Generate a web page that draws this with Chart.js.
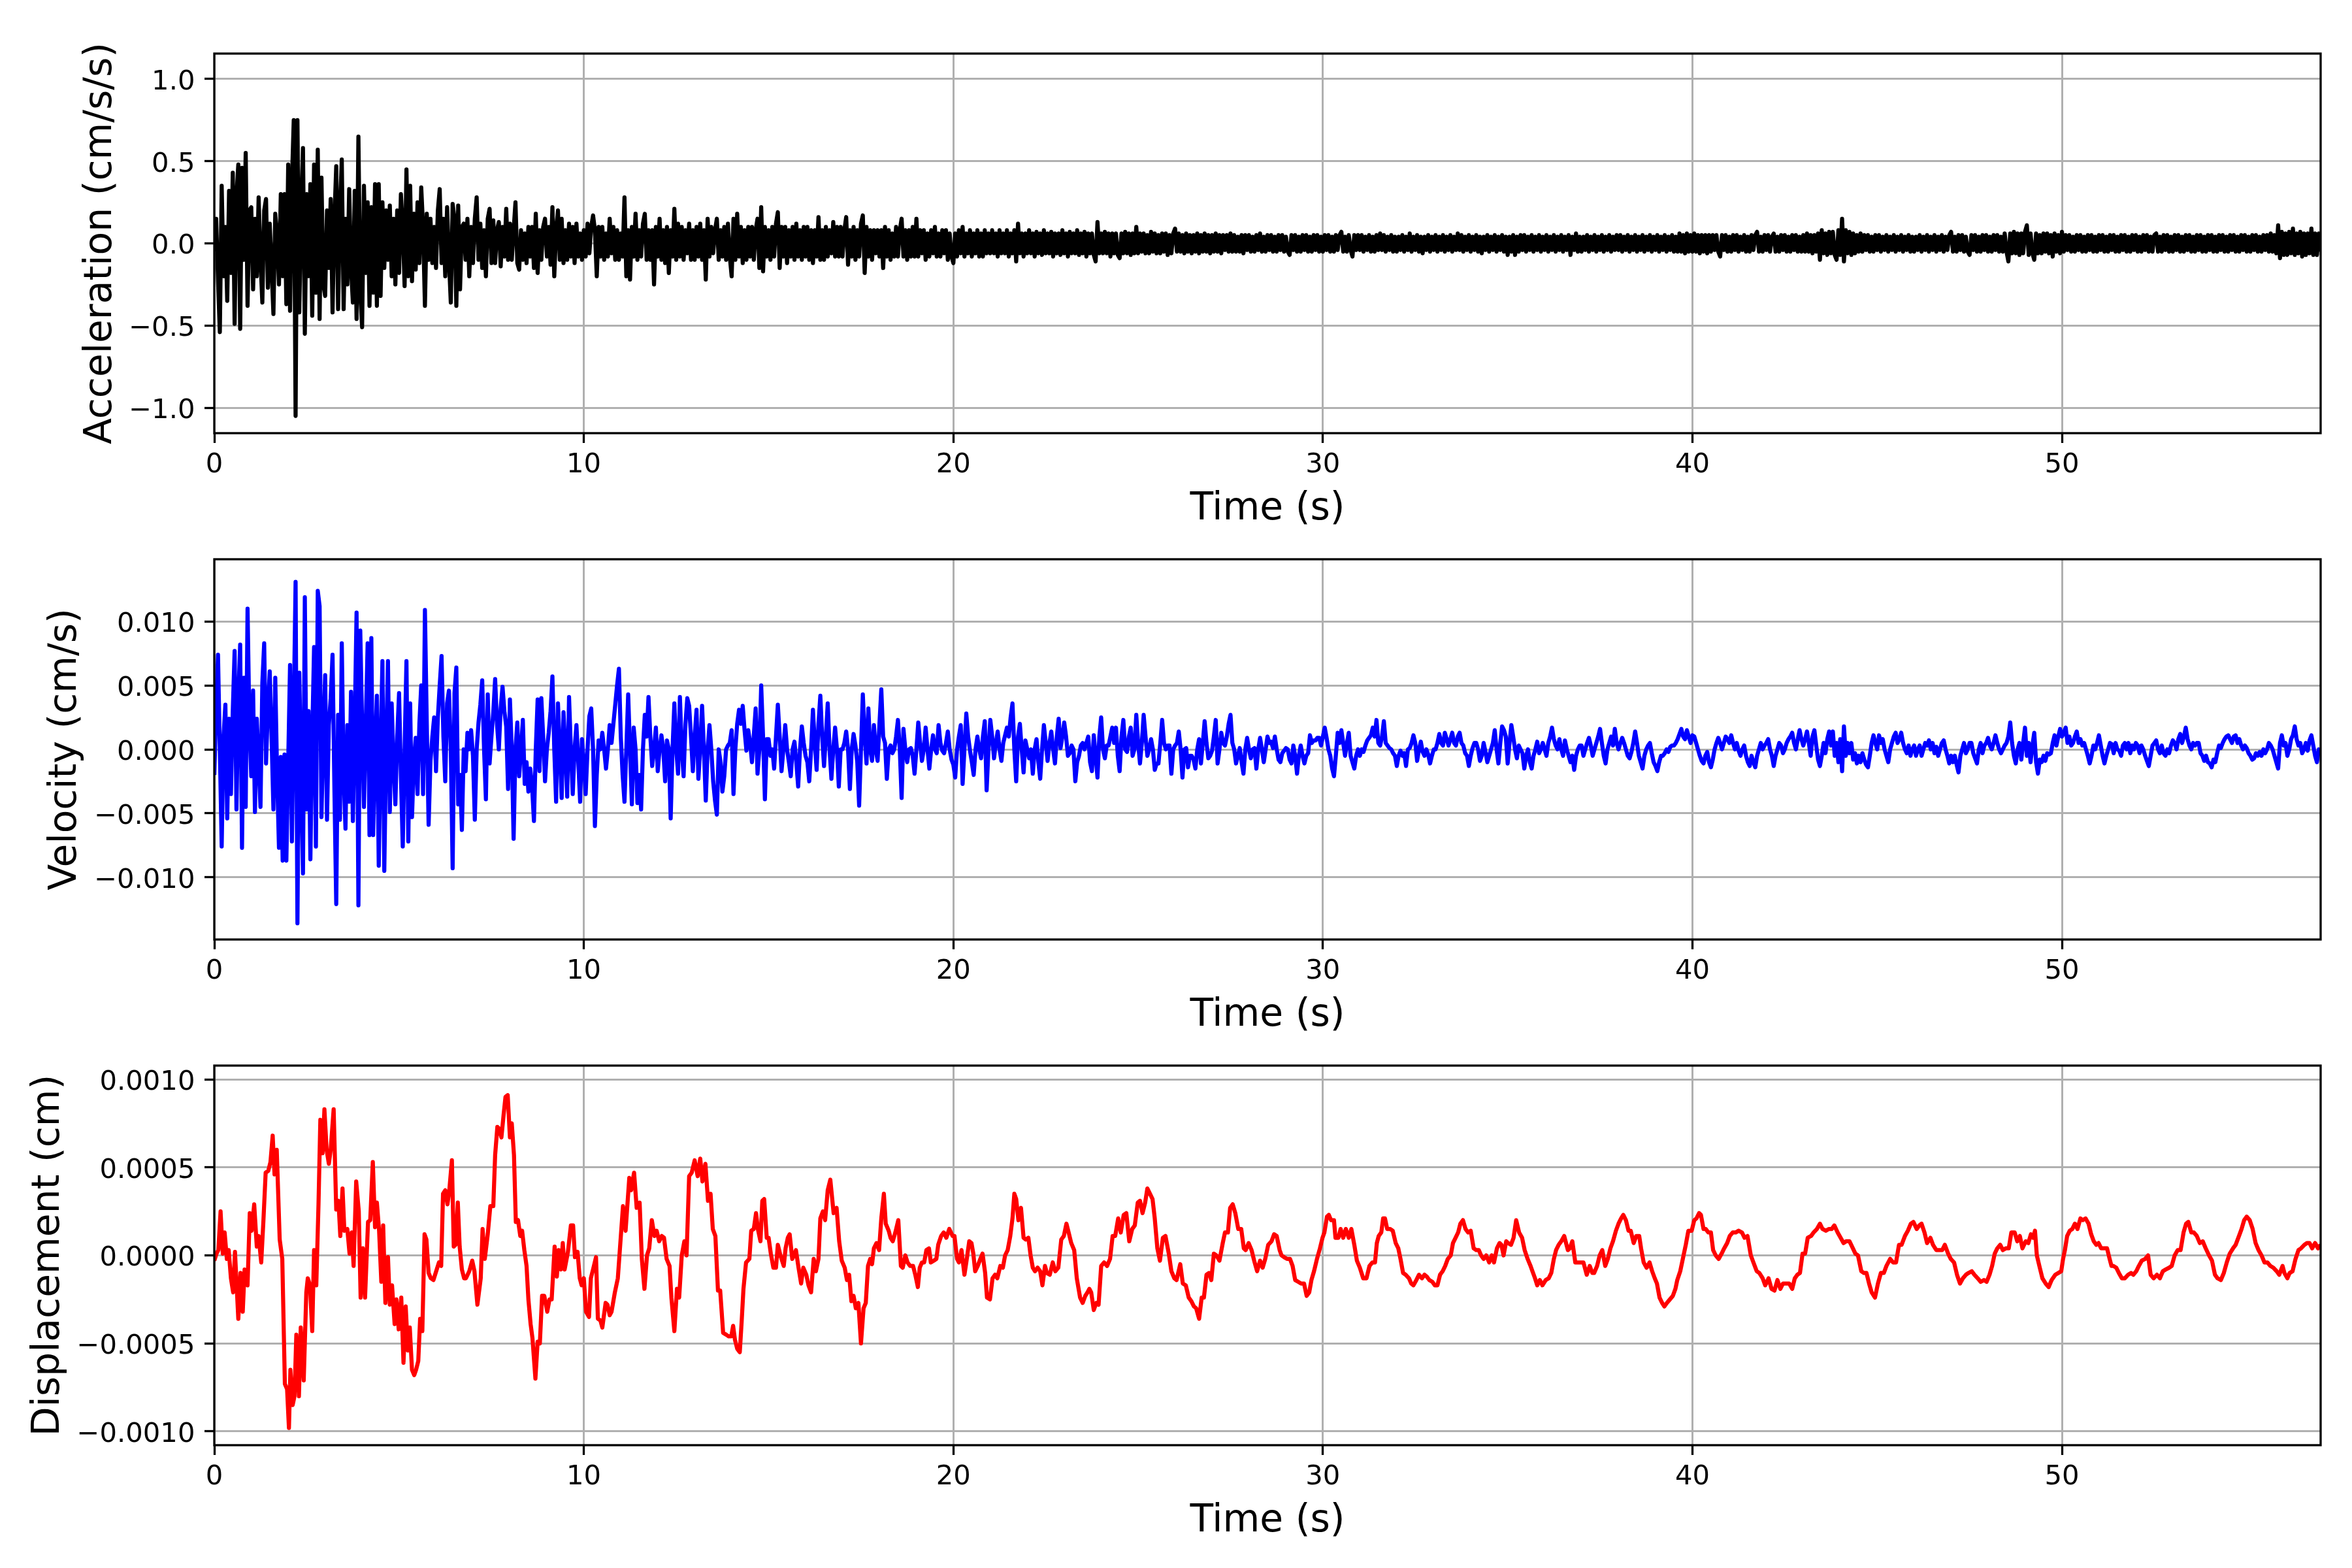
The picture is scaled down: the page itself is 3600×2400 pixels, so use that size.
<!DOCTYPE html>
<html><head><meta charset="utf-8">
<script src="https://cdn.jsdelivr.net/npm/chart.js@4.4.1/dist/chart.umd.min.js"></script>
<style>
html,body{margin:0;padding:0;background:#fff;}
body{width:3600px;height:2400px;position:relative;overflow:hidden;}
canvas{position:absolute;left:0;}
</style></head><body>
<canvas id="c1" width="3600" height="830" style="top:0px;width:3600px;height:830px"></canvas>
<canvas id="c2" width="3600" height="830" style="top:775px;width:3600px;height:830px"></canvas>
<canvas id="c3" width="3600" height="830" style="top:1550px;width:3600px;height:830px"></canvas>
<script>
// ---- axis ticks ----
const timeStep = 0.05;           // s between acceleration / velocity readings
const timeMax = 57.0;
const xTicks = [0, 10, 20, 30, 40, 50];
const xTickLabels = ['0', '10', '20', '30', '40', '50'];
const accTicks = [-1.0, -0.5, 0, 0.5, 1.0];
const accTickLabels = ['\u22121.0', '\u22120.5', '0.0', '0.5', '1.0'];
const velTicks = [-0.010, -0.005, 0, 0.005, 0.010];
const velTickLabels = ['\u22120.010', '\u22120.005', '0.000', '0.005', '0.010'];
const dispTicks = [-0.0010, -0.0005, 0, 0.0005, 0.0010];
const dispTickLabels = ['\u22120.0010', '\u22120.0005', '0.0000', '0.0005', '0.0010'];
const accLimit = 1.155, velLimit = 0.01487, dispLimit = 0.001078;

// ---- acceleration, units of 0.01 cm/s/s, one reading per 0.05 s ----
const acceleration = [
-5,15,-22,-54,35,-20,10,-35,32,-18,43,-49,29,48,-52,46,-10,55,-38,20,
22,-28,15,-20,28,-10,-36,20,27,-27,12,-15,-43,18,5,-25,30,-20,30,-37,
48,-41,37,75,-105,75,-42,20,58,-55,30,-20,36,-44,48,-30,57,-46,40,-25,
-32,20,-15,27,-42,15,47,-40,20,51,-40,15,-25,33,-15,-36,32,-46,65,-30,
-51,35,-18,25,-38,22,-30,36,-38,36,-32,25,-15,20,-10,23,-20,15,-25,20,
-18,30,10,-26,45,-20,35,-23,18,-16,25,-12,34,10,-38,18,-10,15,-12,10,
-15,20,33,-12,15,-20,22,-10,-36,24,15,-38,23,-28,10,12,-10,15,-20,10,
-12,15,28,-10,12,-15,8,-20,15,21,-12,14,-12,8,13,-14,10,-8,21,-10,
12,-10,8,25,-12,-16,8,-10,6,-12,10,-8,10,-15,18,-18,8,-10,10,15,
-8,10,-13,22,-20,8,20,-10,15,-12,8,-10,12,-8,10,-12,12,-8,6,-10,
8,-8,12,-6,10,17,8,-20,10,-8,10,-10,6,-8,15,-6,10,-10,8,-10,
6,-8,28,-20,8,-22,10,-8,18,-10,8,-8,12,18,-10,8,-10,8,-25,10,
-8,15,-10,8,-12,10,-18,8,-8,21,-10,12,-8,10,-10,8,-6,12,-10,8,
-10,10,-8,12,-10,8,-22,15,-8,10,-6,8,15,-10,8,-8,10,-10,12,-8,
-20,15,-10,18,-8,10,-12,8,-10,10,-8,10,-10,8,15,-15,22,-17,10,-8,
8,-10,10,-8,12,19,-15,10,-8,10,-12,8,-8,10,-10,12,-8,8,-10,10,
-8,10,-10,8,-12,8,-8,16,-10,8,-10,10,-8,8,-6,13,-8,10,-8,10,
-8,8,16,-13,8,-8,10,-10,8,-8,12,17,-18,10,-8,8,-10,8,-6,8,
-8,8,-15,10,-8,8,-10,6,-8,10,-8,8,15,-8,8,-10,8,-8,10,-8,
15,-8,8,-6,8,-10,6,-8,8,-6,10,-8,6,-8,8,-6,8,-10,6,-8,
-12,6,-8,8,-6,10,-8,6,-6,8,-8,6,-6,8,-8,6,-8,8,-6,6,
-6,8,-6,6,-8,8,-6,6,-6,8,-8,6,-6,8,-11,12,-6,6,-8,6,
-6,8,-6,6,-8,7,-6,6,-7,8,-6,6,-6,7,-8,6,-6,6,-7,8,
-6,6,-8,7,-6,6,-6,8,-7,6,-6,7,-8,6,-6,6,-7,-11,13,-6,
6,-6,7,-6,6,-8,6,-6,6,-7,-9,6,-6,7,-6,6,-7,6,-6,10,
-6,6,-5,6,-6,5,-6,7,-5,6,-6,5,-6,6,-5,6,-7,5,-6,6,
9,-5,6,-5,5,-6,6,-5,5,-6,5,-5,6,-6,5,-5,6,-5,5,-6,
5,-5,6,-5,5,-6,5,-4,5,-5,6,-5,5,-5,4,-5,5,-6,5,-4,
5,-5,4,-5,5,-4,6,-5,4,-5,5,-4,5,-5,4,-5,5,-4,5,-5,
4,-5,-7,5,-4,5,-5,4,-5,5,-4,5,-5,4,-5,5,-4,5,-5,4,
-5,5,-4,5,-5,4,-5,5,-4,5,7,-5,4,-5,5,-4,-8,5,-4,5,
-4,5,-5,4,-4,5,-5,4,-5,5,-4,6,-4,5,-5,4,-4,5,-5,4,
-5,4,-4,5,-5,4,-4,6,-5,4,-4,5,-5,4,-6,4,-4,5,-5,4,
-4,5,-5,4,-4,5,-5,4,-4,5,-5,4,-4,6,-4,5,-5,4,-4,5,
-5,4,-4,5,-5,4,-6,4,-4,5,-5,4,-4,5,-5,4,-4,5,-5,4,
-7,4,-5,5,-7,4,-5,5,-4,5,-5,4,-4,5,-5,4,-4,5,-5,4,
-4,5,-5,4,-4,5,-5,4,-4,5,-5,4,-4,5,-7,4,-4,6,-5,4,
-5,4,-4,5,-5,4,-4,5,-5,4,-4,5,-5,4,-4,5,-5,4,-4,5,
-4,5,-5,4,-4,5,-5,4,-4,5,-5,4,-4,5,-5,4,-4,5,-5,4,
-4,5,-5,4,-4,5,-5,4,-4,5,-5,4,-5,6,-5,5,-6,6,-5,5,
-5,6,-5,5,-6,5,-5,5,-6,5,-5,5,-4,5,-5,-8,5,-4,5,-5,
4,-5,5,-4,5,-5,4,-4,5,-5,4,-5,5,-4,5,7,-5,4,-5,5,
-4,5,-5,4,6,-5,4,-5,5,-4,5,-5,4,-5,5,-4,5,-5,4,-5,
5,-5,6,-5,5,-6,5,-5,6,-10,8,-6,6,-7,7,-6,7,-7,-10,8,
-7,15,-11,8,-6,7,-7,6,-6,5,-5,6,-5,5,-4,5,-5,4,-5,5,
-4,5,-5,4,-4,5,-5,4,-4,5,-5,4,-4,5,-5,4,-4,5,-5,4,
-5,4,-4,5,-5,4,-4,5,-5,4,-4,5,-5,4,-4,5,-5,4,-4,5,
7,-5,4,-5,5,-4,5,-5,4,-5,-7,5,-4,5,-5,4,-5,5,-4,5,
-5,4,-5,5,-4,5,-5,4,-5,6,-5,-11,6,-6,7,-6,6,-7,6,-6,
7,11,-7,6,-6,-10,6,-6,5,-6,6,-5,6,-6,5,-8,6,-5,5,-6,
7,-5,5,-4,5,-5,4,-5,5,-4,5,-5,4,-5,5,-4,5,-5,4,-5,
5,-4,5,-5,4,-5,5,-4,5,-5,4,-5,5,-4,5,-5,4,-5,5,-4,
5,-5,4,-5,5,-4,5,-5,4,-5,5,6,-5,4,-5,5,-4,5,-5,4,
-5,5,-4,5,-5,4,-5,5,-4,5,-5,4,-5,5,-4,5,-5,4,-5,5,
-4,5,-5,4,-5,5,-4,5,-5,4,-5,5,-4,5,-5,4,-5,5,-4,5,
-5,4,-5,5,-4,5,-5,4,-5,5,-4,5,-5,6,-5,5,-6,11,-9,7,
-7,6,-7,7,-6,9,-7,6,-6,7,-8,6,-7,6,-6,9,-7,6,-7,6,
-5
];

// ---- velocity, units of 1e-4 cm/s, one reading per 0.05 s ----
const velocity = [
-20,30,74,0,-76,10,35,-54,24,-35,30,77,-47,40,82,-77,56,-45,110,20,
-21,46,-49,24,-10,-45,52,83,-11,32,61,10,-47,56,-20,-77,-6,-87,-4,-87,
-10,66,-72,30,131,-136,60,-20,-97,119,-47,30,-86,10,80,-76,124,112,-53,10,
58,-55,19,40,74,-30,-121,27,-55,83,-20,-62,19,-41,45,-56,20,107,-122,93,
20,-45,20,83,-67,87,-67,0,42,-91,0,69,-95,0,69,-49,36,-10,-43,10,
44,-20,-76,0,69,-72,36,-53,-10,9,-35,20,50,-35,109,20,-59,-9,10,25,
-17,25,50,73,10,-25,36,46,0,-93,44,64,-43,-20,-63,0,-17,13,0,15,
-5,-55,0,21,35,54,0,-39,43,-11,10,29,55,20,0,32,49,30,18,-31,
39,0,-70,0,21,-21,0,23,-27,-10,-33,-15,-29,-56,0,39,-17,40,10,-25,
0,13,30,57,0,-41,36,0,-38,29,0,-37,41,0,-35,0,19,-10,-41,8,
-10,-35,0,26,32,0,-60,-20,7,0,13,0,-15,0,19,5,20,35,50,63,
10,-20,-41,0,43,0,-43,17,0,-42,-20,-47,0,27,10,41,10,-13,0,17,
-17,0,11,0,-25,7,0,-54,0,36,0,-19,41,0,-21,20,40,34,10,-17,
10,31,-23,0,34,0,-40,0,19,0,-25,-40,-51,0,-10,-33,-21,0,3,5,
15,-35,0,20,31,20,34,15,-1,15,5,-10,11,32,-19,0,50,10,-39,8,
8,-5,0,-15,10,35,10,-17,0,19,0,-10,-21,0,6,-10,-29,0,18,5,
-5,-10,-25,0,31,5,-16,20,42,10,-13,10,36,0,-23,0,17,0,-29,0,
0,5,14,0,-31,0,12,3,-10,-44,0,43,10,-11,32,0,-9,19,0,-9,
20,47,10,5,-23,0,3,-3,0,10,23,0,-38,16,0,-10,0,1,-5,-19,
0,21,5,-9,0,17,0,-15,0,11,0,-3,19,5,-1,-3,5,14,0,-8,
-12,-22,0,10,19,-27,0,28,10,-1,-10,-20,0,10,0,-7,10,22,-32,0,
23,10,-7,5,14,0,-9,5,11,17,10,25,36,0,-25,10,20,0,-18,7,
0,-7,0,-19,0,8,-10,-23,0,19,5,-9,5,14,0,-11,10,24,1,10,
21,10,-5,-3,3,0,-25,-10,-5,3,5,0,5,10,-10,-17,11,-5,-22,10,
25,0,-7,3,3,10,17,5,17,-5,-17,10,23,0,-2,10,17,-5,0,27,
5,-11,5,27,10,-5,0,8,0,-16,-11,-11,5,23,5,0,3,3,-19,0,
3,5,14,0,-22,0,1,-14,-5,-5,-8,-15,0,8,-11,5,22,5,-7,-5,
-1,10,23,-11,0,13,5,3,10,20,27,5,0,-11,-5,1,-10,-19,0,9,
0,-7,0,1,-15,0,9,0,-10,0,10,5,6,1,10,0,-8,-10,-3,-1,
1,0,-8,-11,3,-5,-19,-5,3,-5,-11,-5,-3,11,5,7,7,9,9,3,
10,17,9,0,-5,-15,-21,-5,13,5,15,5,-5,5,13,-5,-10,-15,-5,0,
-5,0,-2,3,7,9,11,17,10,23,5,3,10,22,5,3,1,0,-3,-5,
-13,-5,-1,-5,-3,-13,0,1,5,11,5,-9,0,6,-2,-5,0,-4,-11,-5,
0,0,5,12,5,3,13,8,3,8,13,5,3,10,13,5,3,-3,-5,-13,
-5,1,5,5,0,-9,-5,5,-2,-10,-5,0,5,15,0,-11,5,18,15,10,
-11,5,19,10,0,-7,3,0,-3,-15,-5,0,-10,-15,-5,0,6,-3,0,5,
0,-5,5,10,17,8,3,0,8,0,-5,7,0,-5,-10,-5,-16,-5,0,3,
3,-5,0,5,9,3,-5,0,5,10,16,5,-5,-11,0,5,10,3,16,5,
0,5,9,5,0,-5,-7,-2,5,14,5,-5,-10,-15,-5,0,3,5,-3,-10,
-13,-17,-10,-5,-5,-3,0,-2,2,3,3,5,8,12,16,10,8,15,10,5,
11,10,5,0,-5,-9,-11,-5,-2,-10,-14,-8,0,5,9,5,0,5,10,8,
5,11,5,0,5,-1,-5,0,3,-5,-10,-13,-5,-10,-14,-5,0,5,0,3,
5,8,0,-5,-13,-5,0,5,3,-3,0,5,8,10,13,5,0,8,15,8,
3,8,14,5,-5,10,15,3,-8,-13,-5,5,-3,8,14,3,14,-5,5,-10,
8,-17,18,-5,5,-3,5,-8,-3,-11,-5,-10,-3,-8,-12,-14,-5,5,11,5,
0,11,5,8,0,-5,-10,0,5,10,13,5,8,13,5,0,-3,3,-5,0,
3,-5,0,3,-5,0,5,3,7,0,5,-3,2,-5,0,5,7,0,-5,-11,
-5,-10,-5,-12,-18,-5,0,5,-3,0,5,5,-3,-7,-11,0,5,-3,3,5,
9,3,0,5,11,5,0,-3,0,3,5,10,21,5,-5,-11,0,5,-8,5,
17,-5,5,-10,3,13,-10,-19,-8,-10,-5,-9,-3,-4,-3,5,11,3,10,16,
10,13,17,5,10,3,5,10,14,5,8,3,5,0,-5,-11,-5,3,0,5,
11,3,-5,-11,-5,0,5,4,-3,5,0,-1,-5,3,5,0,5,-3,3,0,
5,3,-3,3,0,-5,-9,-13,-5,3,5,7,0,-3,3,-3,-5,0,-3,3,
7,5,0,8,12,5,10,17,8,3,0,5,3,5,5,-3,-5,-9,-5,-10,
-11,-14,-8,-10,-3,3,1,5,8,10,11,8,5,10,11,5,8,3,0,3,
1,-3,-5,-8,-7,-3,-5,-2,-5,0,-3,0,5,3,0,-5,-10,-15,5,11,
3,5,-5,0,8,11,18,8,3,5,-3,0,5,-1,7,11,3,-5,-10,0,
-3
];

// ---- displacement readings: [time s, value in 1e-5 cm] ----
const displacementReadings = [
[0,-3],[0.06,1],[0.11,3],[0.17,25],[0.23,1],[0.28,13],[0.34,-2],[0.39,3],[0.45,-13],[0.51,-21],[0.56,2],[0.65,-36],[0.71,-10],[0.77,-32],[0.82,-8],[0.9,-17],[0.96,24],
[1.01,14],[1.08,29],[1.15,5],[1.2,11],[1.27,-4],[1.33,20],[1.39,47],[1.46,48],[1.52,53],[1.58,68],[1.63,46],[1.69,60],[1.77,9],[1.84,-2],[1.91,-73],[1.97,-76],
[2.02,-98],[2.06,-65],[2.12,-85],[2.17,-80],[2.22,-45],[2.29,-80],[2.34,-41],[2.42,-71],[2.49,-21],[2.53,-13],[2.59,-17],[2.65,-43],[2.7,3],[2.76,-17],[2.82,29],[2.87,77],[2.93,58],[2.98,83],
[3.04,60],[3.1,52],[3.15,60],[3.23,83],[3.3,26],[3.36,31],[3.41,11],[3.47,38],[3.52,14],[3.6,15],[3.66,1],[3.72,13],[3.77,-6],[3.84,42],[3.91,25],[3.96,-24],
[4.02,4],[4.08,-24],[4.16,19],[4.22,20],[4.29,53],[4.35,16],[4.4,30],[4.46,14],[4.52,-15],[4.57,17],[4.63,-27],[4.7,-1],[4.75,-28],[4.81,-17],[4.88,-39],[4.93,-25],[4.99,-42],
[5.06,-24],[5.12,-61],[5.18,-29],[5.24,-54],[5.29,-41],[5.35,-65],[5.41,-68],[5.46,-65],[5.52,-60],[5.57,-36],[5.63,-43],[5.69,12],[5.74,9],[5.8,-10],[5.86,-13],[5.93,-14],
[6.02,-8],[6.08,-4],[6.14,-6],[6.19,35],[6.25,37],[6.31,29],[6.36,37],[6.43,54],[6.48,5],[6.53,6],[6.59,30],[6.64,5],[6.7,-8],[6.76,-13],[6.81,-13],[6.9,-9],[6.98,-3],
[7.04,-9],[7.12,-28],[7.21,-13],[7.26,15],[7.32,-2],[7.4,12],[7.47,28],[7.55,28],[7.6,57],[7.66,73],[7.71,72],[7.77,67],[7.83,80],[7.88,90],[7.94,91],
[8.0,67],[8.05,75],[8.11,57],[8.16,19],[8.22,20],[8.28,11],[8.33,14],[8.39,3],[8.45,-6],[8.5,-25],[8.56,-39],[8.61,-47],[8.69,-70],[8.75,-49],[8.81,-50],[8.87,-23],[8.93,-23],
[9.01,-32],[9.07,-25],[9.13,-25],[9.21,5],[9.27,-12],[9.32,3],[9.38,-8],[9.43,7],[9.48,-8],[9.57,2],[9.65,17],[9.71,17],[9.76,-1],[9.83,2],[9.89,-13],[9.94,-17],
[10.0,-13],[10.06,-32],[10.14,-35],[10.19,-13],[10.25,-8],[10.33,-1],[10.38,-36],[10.45,-37],[10.5,-41],[10.59,-27],[10.64,-28],[10.7,-34],[10.75,-32],[10.84,-21],[10.92,-13],
[11.06,28],[11.13,14],[11.23,44],[11.28,37],[11.36,47],[11.43,27],[11.51,30],[11.57,-2],[11.64,-19],[11.71,0],[11.77,4],[11.84,20],[11.91,11],[11.97,14],
[12.04,8],[12.11,11],[12.17,10],[12.24,-2],[12.32,-6],[12.37,-24],[12.45,-43],[12.52,-19],[12.58,-24],[12.65,0],[12.72,8],[12.78,0],[12.85,45],[12.92,47],
[13.0,54],[13.08,45],[13.15,55],[13.21,42],[13.29,52],[13.36,31],[13.43,35],[13.49,15],[13.56,11],[13.63,-20],[13.69,-20],[13.77,-44],[13.85,-45],[13.92,-46],[13.99,-46],
[14.04,-40],[14.09,-48],[14.15,-53],[14.22,-55],[14.27,-38],[14.32,-19],[14.39,-4],[14.48,-2],[14.53,14],[14.6,15],[14.66,24],[14.71,15],[14.78,8],[14.83,31],[14.88,32],[14.95,10],
[15.0,10],[15.06,1],[15.13,-7],[15.2,-7],[15.25,6],[15.32,0],[15.41,-6],[15.46,4],[15.52,10],[15.57,12],[15.64,-2],[15.69,0],[15.74,3],[15.81,-7],[15.88,-16],[15.94,-7],
[16.02,-11],[16.08,-17],[16.15,-21],[16.22,-2],[16.28,-9],[16.35,-2],[16.4,21],[16.47,25],[16.53,20],[16.6,37],[16.67,43],[16.76,24],[16.84,27],[16.91,8],[16.98,-3],
[17.06,-7],[17.12,-14],[17.18,-11],[17.24,-26],[17.3,-23],[17.36,-30],[17.43,-27],[17.5,-50],[17.57,-30],[17.63,-27],[17.69,-6],[17.75,-2],[17.8,-5],[17.85,4],[17.92,7],[17.99,3],
[18.05,21],[18.12,35],[18.17,18],[18.25,14],[18.3,10],[18.36,8],[18.43,13],[18.51,20],[18.58,-6],[18.63,-7],[18.7,0],[18.76,-4],[18.83,-6],[18.91,-6],[18.97,-11],
[19.04,-18],[19.09,-7],[19.15,-4],[19.21,-4],[19.27,3],[19.34,4],[19.39,-4],[19.47,-3],[19.54,-2],[19.59,6],[19.67,11],[19.74,13],[19.81,10],[19.89,15],[19.98,11],
[20.03,11],[20.1,-2],[20.15,-4],[20.22,3],[20.3,-11],[20.35,-4],[20.43,8],[20.49,7],[20.54,1],[20.59,-9],[20.66,-6],[20.73,-2],[20.79,1],[20.86,-10],[20.91,-24],[20.99,-25],
[21.06,-13],[21.13,-11],[21.19,-13],[21.27,-6],[21.34,-7],[21.4,0],[21.47,3],[21.54,11],[21.6,21],[21.65,35],[21.7,32],[21.76,20],[21.83,27],[21.9,10],[21.96,9],
[22.03,10],[22.09,0],[22.15,-7],[22.21,-9],[22.28,-7],[22.35,-9],[22.41,-17],[22.48,-6],[22.53,-10],[22.61,-11],[22.69,-4],[22.76,-9],[22.84,-7],[22.92,9],[22.99,11],
[23.06,18],[23.12,13],[23.19,7],[23.27,3],[23.34,-13],[23.43,-24],[23.5,-27],[23.57,-23],[23.63,-21],[23.68,-19],[23.73,-21],[23.8,-31],[23.87,-27],[23.93,-28],
[24.0,-6],[24.08,-4],[24.16,-6],[24.24,-2],[24.31,11],[24.38,11],[24.46,21],[24.53,13],[24.61,23],[24.68,24],[24.76,8],[24.84,15],[24.91,17],[24.99,30],
[25.05,31],[25.12,24],[25.19,30],[25.25,38],[25.32,35],[25.39,32],[25.45,21],[25.52,4],[25.59,-3],[25.67,10],[25.74,11],[25.83,1],[25.9,-9],[25.98,-13],
[26.04,-14],[26.14,-5],[26.21,-16],[26.29,-17],[26.37,-24],[26.44,-26],[26.51,-29],[26.57,-30],[26.65,-36],[26.72,-24],[26.78,-24],[26.85,-11],[26.92,-10],[26.98,-14],
[27.05,1],[27.12,0],[27.2,-3],[27.29,7],[27.35,13],[27.43,13],[27.49,27],[27.56,29],[27.63,24],[27.71,15],[27.79,15],[27.86,4],[27.91,3],[27.99,7],
[28.07,3],[28.14,-3],[28.22,-9],[28.3,-3],[28.37,-7],[28.44,-2],[28.52,6],[28.61,8],[28.68,12],[28.75,11],[28.83,3],[28.88,0],[28.95,-1],
[29.03,-2],[29.11,-2],[29.18,-6],[29.25,-14],[29.33,-15],[29.41,-16],[29.49,-16],[29.56,-23],[29.63,-21],[29.69,-14],[29.76,-9],[29.84,-2],[29.92,4],[29.99,10],
[30.04,13],[30.11,22],[30.16,23],[30.22,20],[30.3,20],[30.34,10],[30.42,10],[30.48,15],[30.55,10],[30.62,15],[30.7,10],[30.77,15],[30.85,6],[30.92,-3],
[31.0,-7],[31.09,-13],[31.18,-13],[31.26,-6],[31.34,-4],[31.41,-4],[31.46,7],[31.51,11],[31.58,13],[31.63,21],[31.68,21],[31.74,15],[31.82,15],[31.89,14],[31.97,7],
[32.04,4],[32.1,-2],[32.17,-10],[32.24,-11],[32.33,-13],[32.39,-16],[32.45,-17],[32.53,-14],[32.6,-11],[32.68,-13],[32.75,-11],[32.81,-12],[32.88,-14],[32.96,-15],
[33.03,-17],[33.1,-17],[33.17,-11],[33.24,-9],[33.31,-6],[33.38,-2],[33.46,0],[33.52,7],[33.59,10],[33.66,13],[33.72,18],[33.79,20],[33.86,15],[33.93,13],
[34.0,14],[34.08,4],[34.15,3],[34.22,3],[34.28,0],[34.35,-2],[34.42,0],[34.5,-4],[34.57,0],[34.63,-4],[34.71,4],[34.78,7],[34.83,6],[34.89,0],[34.96,8],
[35.01,7],[35.09,6],[35.16,10],[35.23,20],[35.31,13],[35.39,10],[35.46,3],[35.54,-2],[35.62,-6],[35.67,-9],[35.74,-13],[35.8,-17],[35.87,-14],[35.94,-17],
[36.03,-14],[36.11,-13],[36.18,-10],[36.25,-2],[36.31,3],[36.38,6],[36.45,8],[36.53,11],[36.58,7],[36.63,3],[36.68,4],[36.75,8],[36.83,-4],[36.9,-4],[36.98,-4],
[37.05,-4],[37.14,-11],[37.22,-6],[37.29,-10],[37.34,-10],[37.42,-6],[37.49,0],[37.56,3],[37.64,-6],[37.71,-2],[37.78,4],[37.85,8],[37.93,14],
[38.0,18],[38.07,21],[38.13,23],[38.2,20],[38.27,14],[38.33,14],[38.41,7],[38.48,11],[38.56,11],[38.61,4],[38.68,-4],[38.76,-7],[38.84,-4],[38.91,-9],[38.98,-13],
[39.04,-16],[39.11,-24],[39.18,-27],[39.24,-29],[39.31,-27],[39.39,-25],[39.47,-23],[39.54,-19],[39.59,-14],[39.67,-9],[39.74,-2],[39.82,6],[39.89,14],[39.98,14],
[40.05,20],[40.11,21],[40.18,24],[40.23,23],[40.3,15],[40.36,15],[40.43,13],[40.5,13],[40.56,3],[40.63,0],[40.71,-2],[40.79,1],[40.86,4],[40.94,7],
[41.01,11],[41.09,13],[41.17,13],[41.25,14],[41.34,13],[41.41,10],[41.49,11],[41.58,0],[41.65,-4],[41.74,-9],[41.81,-10],[41.9,-13],[41.97,-17],
[42.06,-13],[42.14,-19],[42.22,-20],[42.3,-14],[42.38,-19],[42.45,-16],[42.54,-16],[42.62,-16],[42.7,-19],[42.77,-13],[42.84,-11],[42.91,-10],[42.98,1],
[43.05,1],[43.12,10],[43.21,11],[43.28,13],[43.37,15],[43.45,18],[43.52,15],[43.61,14],[43.69,15],[43.77,15],[43.84,17],[43.93,13],
[44.01,10],[44.09,7],[44.16,8],[44.25,8],[44.32,5],[44.41,1],[44.48,0],[44.57,-9],[44.64,-10],[44.71,-10],[44.78,-16],[44.85,-21],[44.94,-24],
[45.02,-16],[45.1,-10],[45.18,-10],[45.25,-6],[45.35,-2],[45.43,-4],[45.51,-4],[45.59,6],[45.66,6],[45.75,11],[45.83,14],[45.91,18],[45.98,19],
[46.07,15],[46.14,17],[46.2,18],[46.28,13],[46.35,7],[46.44,10],[46.51,6],[46.6,3],[46.67,3],[46.76,3],[46.83,6],[46.92,1],[46.99,-2],
[47.08,-4],[47.16,-11],[47.24,-16],[47.32,-13],[47.4,-11],[47.47,-10],[47.56,-9],[47.63,-11],[47.72,-13],[47.8,-15],[47.89,-14],[47.96,-15],
[48.04,-11],[48.11,-6],[48.18,1],[48.25,4],[48.33,6],[48.4,3],[48.48,4],[48.56,4],[48.63,13],[48.72,13],[48.79,8],[48.86,11],[48.93,4],
[49.02,8],[49.09,7],[49.16,12],[49.22,10],[49.27,14],[49.32,0],[49.4,-7],[49.47,-13],[49.56,-16],[49.64,-18],[49.72,-14],[49.82,-11],[49.9,-10],[49.98,-9],
[50.03,-2],[50.08,3],[50.14,11],[50.21,14],[50.28,15],[50.35,18],[50.42,15],[50.5,21],[50.56,20],[50.64,21],[50.72,18],[50.79,12],[50.86,8],[50.93,6],[50.99,7],
[51.06,4],[51.15,4],[51.22,4],[51.29,-2],[51.34,-6],[51.39,-6],[51.47,-7],[51.54,-10],[51.62,-13],[51.7,-13],[51.79,-11],[51.87,-10],[51.93,-11],
[52.01,-9],[52.08,-6],[52.16,-3],[52.25,-2],[52.33,0],[52.4,-11],[52.48,-13],[52.57,-11],[52.65,-13],[52.73,-9],[52.81,-8],[52.9,-7],[52.97,-6],
[53.05,0],[53.13,3],[53.21,3],[53.29,13],[53.36,18],[53.42,19],[53.5,13],[53.57,13],[53.65,11],[53.73,7],[53.81,8],[53.89,4],[53.98,0],
[54.06,-3],[54.14,-11],[54.21,-13],[54.3,-14],[54.38,-10],[54.46,-4],[54.54,1],[54.63,4],[54.7,6],[54.79,11],[54.86,15],[54.93,20],
[55.0,22],[55.08,20],[55.16,15],[55.24,7],[55.32,3],[55.4,0],[55.48,-4],[55.56,-4],[55.64,-6],[55.72,-7],[55.81,-9],[55.88,-11],[55.97,-6],
[56.02,-10],[56.1,-13],[56.16,-10],[56.24,-9],[56.32,-2],[56.4,3],[56.47,4],[56.56,6],[56.63,7],[56.7,7],[56.77,4],[56.85,7],[56.93,4],[57.0,6]
];

// ---- build point lists through the scales ----
const accelPoints = acceleration.map((v, i) => ({ x: i * timeStep, y: v / 100 }));
const velocityPoints = velocity.map((v, i) => ({ x: i * timeStep, y: v / 10000 }));
const displacementPoints = displacementReadings.map(r => ({ x: r[0], y: r[1] / 100000 }));

const FONT = "'DejaVu Sans', 'Liberation Sans', sans-serif";
const TICK_SIZE = 41.7;
const LABEL_SIZE = 58.3;

const framePlugin = {
  id: 'frame',
  afterDatasetsDraw(chart) {
    const { ctx, chartArea: a } = chart;
    ctx.save();
    ctx.strokeStyle = '#000';
    ctx.lineWidth = 3.3;
    ctx.strokeRect(a.left, a.top, a.right - a.left, a.bottom - a.top);
    ctx.restore();
  }
};

function makePanel(id, p) {
  return new Chart(document.getElementById(id), {
    type: 'line',
    data: {
      datasets: [{
        data: p.points,
        borderColor: p.color,
        borderWidth: 6.25,
        pointRadius: 0,
        pointHoverRadius: 0,
        tension: 0,
        fill: false,
        borderJoinStyle: 'round',
        borderCapStyle: 'butt'
      }]
    },
    options: {
      responsive: false,
      animation: false,
      devicePixelRatio: 1,
      parsing: false,
      normalized: true,
      events: [],
      layout: { padding: { top: p.padTop, right: 48, bottom: 0, left: 0 } },
      plugins: { legend: { display: false }, tooltip: { enabled: false }, title: { display: false } },
      scales: {
        x: {
          type: 'linear', position: 'bottom', min: 0, max: timeMax,
          afterBuildTicks: s => { s.ticks = xTicks.map(v => ({ value: v })); },
          afterFit: s => { s.height = p.xAxisHeight; },
          ticks: {
            autoSkip: false, maxRotation: 0, minRotation: 0, padding: 13, color: '#000',
            font: { family: FONT, size: TICK_SIZE, lineHeight: 1 },
            callback: (v, i) => xTickLabels[i]
          },
          grid: { color: '#b0b0b0', lineWidth: 3, tickColor: '#000', tickWidth: 3.3, tickLength: 15, drawTicks: true },
          border: { display: false },
          title: {
            display: true, text: 'Time (s)', color: '#000',
            font: { family: FONT, size: LABEL_SIZE, lineHeight: 1 },
            padding: { top: 0, bottom: p.xTitlePad }
          }
        },
        y: {
          type: 'linear', position: 'left', min: -p.limit, max: p.limit,
          afterBuildTicks: s => { s.ticks = p.ticks.map(v => ({ value: v })); },
          afterFit: s => { s.width = 328; },
          ticks: {
            autoSkip: false, padding: 14.6, color: '#000', labelOffset: 5,
            font: { family: FONT, size: TICK_SIZE, lineHeight: 1 },
            callback: (v, i) => p.tickLabels[i]
          },
          grid: { color: '#b0b0b0', lineWidth: 3, tickColor: '#000', tickWidth: 3.3, tickLength: 15, drawTicks: true },
          border: { display: false },
          title: {
            display: true, text: p.yTitle, color: '#000',
            font: { family: FONT, size: LABEL_SIZE, lineHeight: 1 },
            padding: { top: p.yTitlePad, bottom: 0 }
          }
        }
      }
    },
    plugins: [framePlugin]
  });
}

makePanel('c1', {
  points: accelPoints, color: '#000000', limit: accLimit, ticks: accTicks, tickLabels: accTickLabels,
  yTitle: 'Acceleration (cm/s/s)', padTop: 82, xAxisHeight: 167, xTitlePad: 21, yTitlePad: 125.6
});
makePanel('c2', {
  points: velocityPoints, color: '#0000ff', limit: velLimit, ticks: velTicks, tickLabels: velTickLabels,
  yTitle: 'Velocity (cm/s)', padTop: 81, xAxisHeight: 167, xTitlePad: 21, yTitlePad: 72
});
makePanel('c3', {
  points: displacementPoints, color: '#ff0000', limit: dispLimit, ticks: dispTicks, tickLabels: dispTickLabels,
  yTitle: 'Displacement (cm)', padTop: 81, xAxisHeight: 168, xTitlePad: 22, yTitlePad: 45.6
});
</script>
</body></html>
